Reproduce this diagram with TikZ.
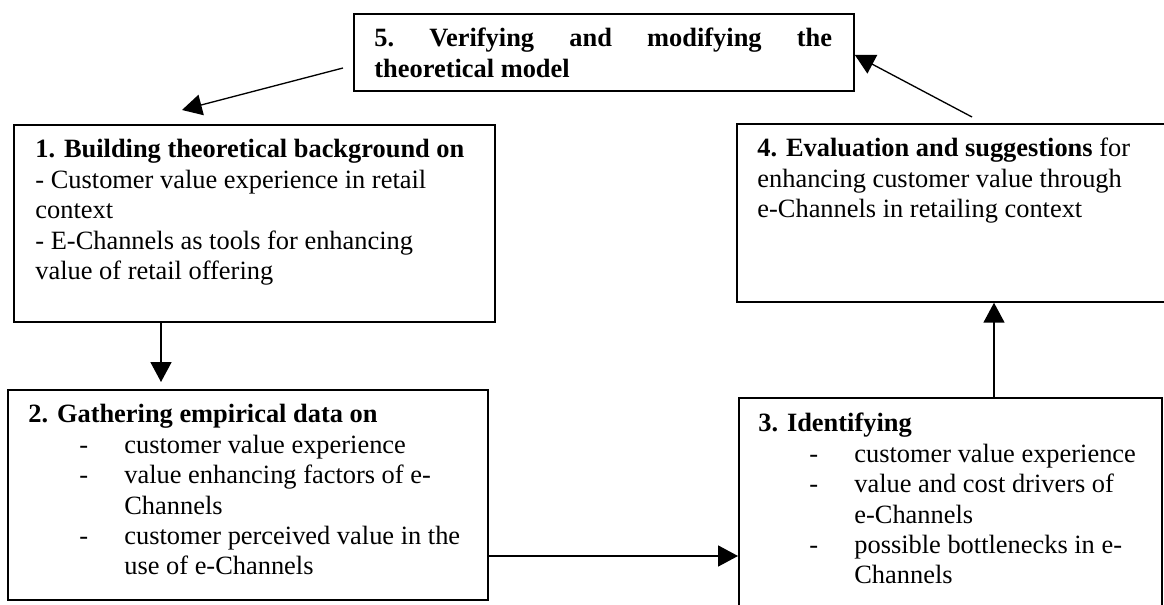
\documentclass[tikz,border=0pt]{standalone}
\usepackage{fontspec}
\setmainfont{Liberation Serif}
\usetikzlibrary{arrows.meta,calc}
% bulleted sub-item and its continuation line inside a stage box
\newcommand\stepitem[1]{\hspace*{23.2pt}\makebox[20.4pt][l]{-}#1}
\newcommand\stepcont[1]{\hspace*{43.6pt}#1}
\begin{document}
\begin{tikzpicture}[x=0.4545pt,y=-0.4545pt,
  stage/.style={draw, line width=0.8pt, inner sep=0pt, anchor=north west},
  txt/.style={anchor=base west, inner sep=0pt, font=\fontsize{12pt}{13.8pt}\selectfont},
  arr/.style={line width=0.6pt, -{Triangle[length=9pt,width=9.5pt]}}]
\useasboundingbox (0,0) rectangle (1164,605);
\clip (0,0) rectangle (1164,605);

% stage boxes
\node[stage, minimum width=227.3pt, minimum height=35pt]   (b5) at (353,13)  {};
\node[stage, minimum width=218.6pt, minimum height=89.5pt] (b1) at (13,124)  {};
\node[stage, minimum width=218.2pt, minimum height=95.4pt] (b2) at (7,389)   {};
\node[stage, minimum width=192.3pt, minimum height=99.1pt] (b3) at (738,397) {};
\node[stage, minimum width=199.5pt, minimum height=80.9pt] (b4) at (736,123) {};

% box texts
\node[txt] (t5) at (374,47) {\begin{tabular}[t]{@{}l@{}}
  \textbf{\hbox to 208pt{5.\hfill Verifying\hfill and\hfill modifying\hfill the}}\\
  \textbf{theoretical model}
\end{tabular}};

\node[txt] (t1) at (35,158) {\begin{tabular}[t]{@{}l@{}}
  \textbf{1. Building theoretical background on}\\
  - Customer value experience in retail\\
  context\\
  - E-Channels as tools for enhancing\\
  value of retail offering
\end{tabular}};

\node[txt] (t2) at (28,423) {\begin{tabular}[t]{@{}l@{}}
  \textbf{2. Gathering empirical data on}\\
  \stepitem{customer value experience}\\
  \stepitem{value enhancing factors of e-}\\
  \stepcont{Channels}\\
  \stepitem{customer perceived value in the}\\
  \stepcont{use of e-Channels}
\end{tabular}};

\node[txt] (t3) at (758,432) {\begin{tabular}[t]{@{}l@{}}
  \textbf{3. Identifying}\\
  \stepitem{customer value experience}\\
  \stepitem{value and cost drivers of}\\
  \stepcont{e-Channels}\\
  \stepitem{possible bottlenecks in e-}\\
  \stepcont{Channels}
\end{tabular}};

\node[txt] (t4) at (757,157) {\begin{tabular}[t]{@{}l@{}}
  \textbf{4. Evaluation and suggestions} for\\
  enhancing customer value through\\
  e-Channels in retailing context
\end{tabular}};

% connectors
\coordinate (p51a) at (343,68);
\coordinate (p51b) at (182,110);
\draw[arr] (p51a) -- (p51b);

\coordinate (p45) at (972,117);
\draw[arr] (p45) -- ($(b5.north east)+(0,42)$);

\coordinate (p12) at (161,0);
\draw[arr] (b1.south -| p12) -- ($(b2.north -| p12)+(0,-7)$);

\coordinate (p23) at (0,556);
\draw[arr] (b2.east |- p23) -- (b3.west |- p23);

\coordinate (p34) at (994,0);
\draw[arr] (b3.north -| p34) -- (b4.south -| p34);
\end{tikzpicture}
\end{document}
